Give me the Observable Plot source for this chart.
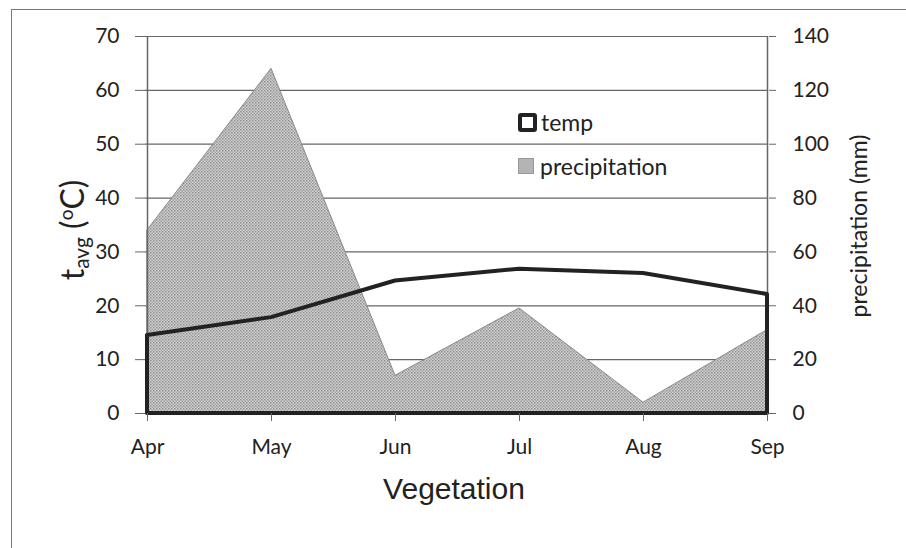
<!DOCTYPE html>
<html><head><meta charset="utf-8">
<script src="https://cdn.jsdelivr.net/npm/d3@7"></script>
<script src="https://cdn.jsdelivr.net/npm/@observablehq/plot@0.6"></script>
<style>
body{margin:0;background:#fff;}
#wrap{position:relative;width:906px;height:548px;overflow:hidden;font-family:Lato,"Open Sans",sans-serif;color:#222;}
#frame{position:absolute;left:11px;top:9px;width:920px;height:600px;border-left:1.5px solid #777;border-top:1.5px solid #777;}
.lbl{position:absolute;white-space:nowrap;}
#ylab{left:72px;top:230px;font-size:32px;transform:translate(-50%,-50%) rotate(-90deg);}
#ylab sub{font-size:21px;vertical-align:-5px;}
#ylab sup{font-size:19px;vertical-align:11px;}
#y2lab{left:858px;top:226px;font-size:23px;transform:translate(-50%,-50%) rotate(-90deg);}
#xlab{left:454px;top:489px;font-size:30px;font-family:"Liberation Sans",Arial,sans-serif;transform:translate(-50%,-50%);}
.leg{position:absolute;left:518px;font-size:23px;display:flex;align-items:center;}
.sw{display:inline-block;box-sizing:border-box;margin-right:4px;}
#sw1{width:19px;height:19px;border:4px solid #222;border-radius:3px;background:#fff;}
#sw2{width:16px;height:16px;border:1px solid #999;background:#b4b4b4;margin-right:6px;}
</style>
</head><body>
<div id="wrap"><div id="frame"></div></div>
<script>
const months = ["Apr","May","Jun","Jul","Aug","Sep"];
const temp = [14.5, 17.8, 24.6, 26.8, 26.0, 22.1];
const precipitation = [68, 128, 14, 39, 4, 31];
const tempTicks = [0,10,20,30,40,50,60,70];
const precipTicks = [0,20,40,60,80,100,120,140];

const data = months.map((m,i)=>({month:m, temp:temp[i], precip:precipitation[i]}));

const chart = Plot.plot({
  width: 906, height: 548,
  marginLeft: 145, marginRight: 138, marginTop: 36, marginBottom: 135,
  style: {fontFamily: "Lato, 'Open Sans', sans-serif", color: "#222", background: "transparent"},
  x: {type: "point", domain: months, padding: 0},
  y: {domain: [0, 70]},
  marks: [
    Plot.ruleY(tempTicks, {stroke: "#666", strokeWidth: 1.2}),
    Plot.areaY(data, {x: "month", y: d => d.precip / 2, fill: "url(#stip)", stroke: "#8a8a8a", strokeWidth: 1}),
    Plot.ruleX([months[0], months[months.length-1]], {y1: 0, y2: 70, stroke: "#666", strokeWidth: 1.5}),
    Plot.areaY(data, {x: "month", y: "temp", fill: "none", stroke: "#222", strokeWidth: 4, strokeLinejoin: "round"}),
    Plot.axisY(tempTicks, {anchor: "left", tickSize: 10, tickPadding: 16, fontSize: 21, label: null, stroke: "#666"}),
    Plot.axisY(tempTicks, {anchor: "right", tickSize: 7, tickPadding: 17, fontSize: 21, label: null, stroke: "#666",
      tickFormat: (d, i) => precipTicks[i]}),
    Plot.axisX({tickSize: 8, tickPadding: 18, fontSize: 21, label: null, stroke: "#666"})
  ]
});

const ns = "http://www.w3.org/2000/svg";
const defs = document.createElementNS(ns, "defs");
defs.innerHTML = '<pattern id="stip" width="3" height="3" patternUnits="userSpaceOnUse">' +
  '<rect width="3" height="3" fill="#d2d2d2"/><rect width="1.5" height="1.5" fill="#8e8e8e"/>' +
  '<rect x="1.5" y="1.5" width="1.5" height="1.5" fill="#a2a2a2"/></pattern>';
chart.insertBefore(defs, chart.firstChild);
chart.style.position = "absolute";
chart.style.left = "0"; chart.style.top = "0";

const wrap = document.getElementById("wrap");
wrap.appendChild(chart);
wrap.insertAdjacentHTML("beforeend",
  '<div class="lbl" id="ylab">t<sub>avg</sub> (<sup>o</sup>C)</div>' +
  '<div class="lbl" id="y2lab">precipitation (mm)</div>' +
  '<div class="lbl" id="xlab">Vegetation</div>' +
  '<div class="leg" style="top:108px"><span class="sw" id="sw1"></span>temp</div>' +
  '<div class="leg" style="top:152px"><span class="sw" id="sw2"></span>precipitation</div>');
</script>
</body></html>
